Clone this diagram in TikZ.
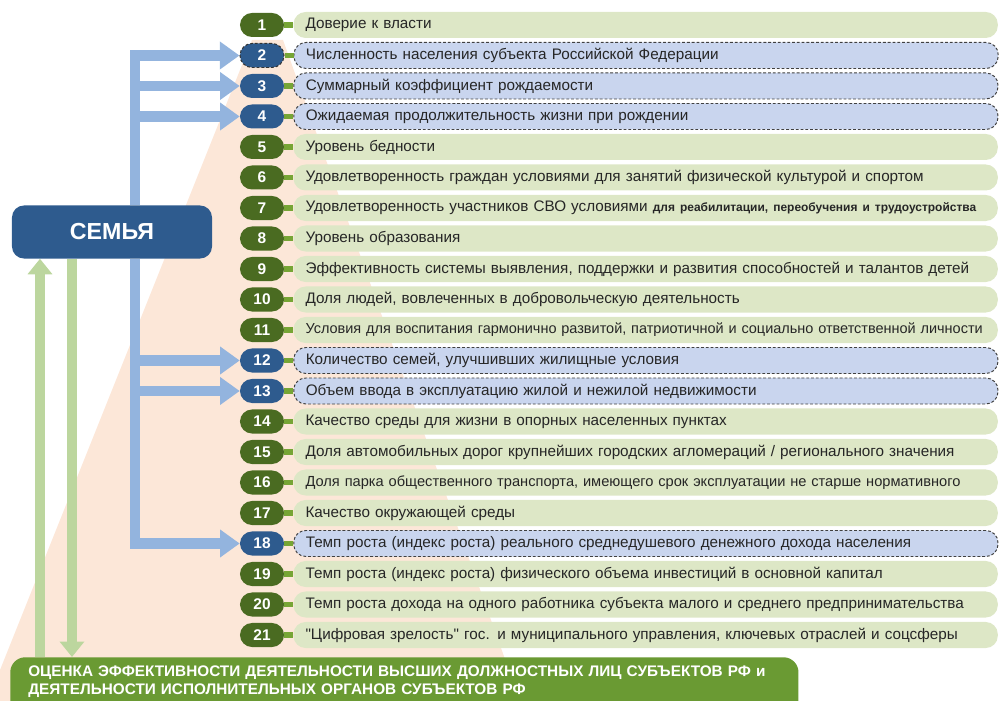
\documentclass[tikz,border=0pt]{standalone}
\usepackage{fontspec}
\setmainfont{Liberation Sans}[Ligatures=TeXOff]
\setsansfont{Liberation Sans}[Ligatures=TeXOff]
\usetikzlibrary{arrows.meta,backgrounds,positioning}
\definecolor{numgreen}{HTML}{4A6B21}
\definecolor{numblue}{HTML}{2E5B8E}
\definecolor{rowgreen}{HTML}{DDE7C6}
\definecolor{rowblue}{HTML}{C9D5EE}
\definecolor{bargreen}{HTML}{76A535}
\definecolor{arrblue}{HTML}{93B4DE}
\definecolor{arrgreen}{HTML}{BCD69E}
\definecolor{boxgreen}{HTML}{6A9A33}
\definecolor{beam}{HTML}{FCE7D8}
\tikzset{
  row/.style = {rectangle, rounded corners=0.3cm, text width=17cm, inner xsep=0.3cm,
    inner ysep=0pt, minimum height=0.65cm, align=left, text=black!85,
    font=\fontsize{10.85}{12}\selectfont},
  row_g/.style = {row, fill=rowgreen},% ligne verte
  row_b/.style = {row, fill=rowblue, draw=black!75, line width=0.7pt,
    dash pattern=on 2pt off 1.4pt},% ligne bleue, pointillee
  num/.style = {rectangle, rounded corners=0.3cm, minimum width=1.1cm,
    minimum height=0.6cm, inner sep=0pt, text=white, font=\fontsize{11}{12}\bfseries},
  num_g/.style = {num, fill=numgreen},
  num_b/.style = {num, fill=numblue},
  link/.style = {draw=bargreen, line width=4pt},
  b_arr/.style = {draw=arrblue, line width=7.5pt, -{Triangle[length=14pt,width=19pt]}},
  g_arr/.style = {draw=arrgreen, line width=7pt, -{Triangle[length=11pt,width=17pt]}}
}

\begin{document}
\begin{tikzpicture}[x=0.025cm, y=-0.025cm]
        \useasboundingbox (0,0) rectangle (1000,701);
        \clip (0,0) rectangle (1000,701);
        \node [rectangle, rounded corners=0.3cm, fill=numblue, text=white, minimum width=5cm,
          minimum height=1.325cm, font=\fontsize{16.5}{18}\bfseries] (semya) at (112,232) {СЕМЬЯ};
        \node [rectangle, rounded corners=0.375cm, fill=boxgreen, text=white, anchor=north west,
          text width=18.8cm, inner xsep=0.45cm, inner ysep=0.22cm, align=left,
          font=\fontsize{10.9}{12.8}\bfseries] (ocenka) at (10,657)
          {ОЦЕНКА ЭФФЕКТИВНОСТИ ДЕЯТЕЛЬНОСТИ ВЫСШИХ ДОЛЖНОСТНЫХ ЛИЦ СУБЪЕКТОВ РФ и\\
           ДЕЯТЕЛЬНОСТИ ИСПОЛНИТЕЛЬНЫХ ОРГАНОВ СУБЪЕКТОВ РФ\par\vspace{0.4cm}};
        % les 21 indicateurs
        \node [num_g] (n1) at (262,25) {1};
        \node [row_g, right=0.225cm of n1] (t1) {Доверие к власти};
        \node [num_b, draw=black!80, line width=0.7pt, dash pattern=on 2pt off 1.4pt] (n2) at (262,55.5) {2};
        \node [row_b, right=0.225cm of n2] (t2) {Численность населения субъекта Российской Федерации};
        \node [num_b] (n3) at (262,86) {3};
        \node [row_b, right=0.225cm of n3] (t3) {Суммарный коэффициент рождаемости};
        \node [num_b] (n4) at (262,116.5) {4};
        \node [row_b, right=0.225cm of n4] (t4) {Ожидаемая продолжительность жизни при рождении};
        \node [num_g] (n5) at (262,147) {5};
        \node [row_g, right=0.225cm of n5] (t5) {Уровень бедности};
        \node [num_g] (n6) at (262,177.5) {6};
        \node [row_g, right=0.225cm of n6] (t6) {Удовлетворенность граждан условиями для занятий физической культурой и спортом};
        \node [num_g] (n7) at (262,208) {7};
        \node [row_g, right=0.225cm of n7] (t7) {Удовлетворенность участников СВО условиями
          {\fontsize{8.5}{9}\bfseries для реабилитации, переобучения и трудоустройства}};
        \node [num_g] (n8) at (262,238.5) {8};
        \node [row_g, right=0.225cm of n8] (t8) {Уровень образования};
        \node [num_g] (n9) at (262,269) {9};
        \node [row_g, right=0.225cm of n9] (t9) {Эффективность системы выявления, поддержки и развития способностей и талантов детей};
        \node [num_g] (n10) at (262,299.5) {10};
        \node [row_g, right=0.225cm of n10] (t10) {Доля людей, вовлеченных в добровольческую деятельность};
        \node [num_g] (n11) at (262,330) {11};
        \node [row_g, right=0.225cm of n11, font=\fontsize{10.3}{12}\selectfont] (t11) {Условия для воспитания гармонично развитой, патриотичной и социально ответственной личности};
        \node [num_b] (n12) at (262,360.5) {12};
        \node [row_b, right=0.225cm of n12] (t12) {Количество семей, улучшивших жилищные условия};
        \node [num_b] (n13) at (262,391) {13};
        \node [row_b, right=0.225cm of n13] (t13) {Объем ввода в эксплуатацию жилой и нежилой недвижимости};
        \node [num_g] (n14) at (262,421.5) {14};
        \node [row_g, right=0.225cm of n14] (t14) {Качество среды для жизни в опорных населенных пунктах};
        \node [num_g] (n15) at (262,452) {15};
        \node [row_g, right=0.225cm of n15] (t15) {Доля автомобильных дорог крупнейших городских агломераций / регионального значения};
        \node [num_g] (n16) at (262,482.5) {16};
        \node [row_g, right=0.225cm of n16, font=\fontsize{10.4}{12}\selectfont] (t16) {Доля парка общественного транспорта, имеющего срок эксплуатации не старше нормативного};
        \node [num_g] (n17) at (262,513) {17};
        \node [row_g, right=0.225cm of n17] (t17) {Качество окружающей среды};
        \node [num_b] (n18) at (262,543.5) {18};
        \node [row_b, right=0.225cm of n18] (t18) {Темп роста (индекс роста) реального среднедушевого денежного дохода населения};
        \node [num_g] (n19) at (262,574) {19};
        \node [row_g, right=0.225cm of n19] (t19) {Темп роста (индекс роста) физического объема инвестиций в основной капитал};
        \node [num_g] (n20) at (262,604.5) {20};
        \node [row_g, right=0.225cm of n20] (t20) {Темп роста дохода на одного работника субъекта малого и среднего предпринимательства};
        \node [num_g] (n21) at (262,635) {21};
        \node [row_g, right=0.225cm of n21] (t21) {"Цифровая зрелость" гос. и муниципального управления, ключевых отраслей и соцсферы};
        \draw [link] (n1) -- (t1) (n2) -- (t2) (n3) -- (t3) (n4) -- (t4) (n5) -- (t5) (n6) -- (t6)
          (n7) -- (t7) (n8) -- (t8) (n9) -- (t9) (n10) -- (t10) (n11) -- (t11) (n12) -- (t12)
          (n13) -- (t13) (n14) -- (t14) (n15) -- (t15) (n16) -- (t16) (n17) -- (t17)
          (n18) -- (t18) (n19) -- (t19) (n20) -- (t20) (n21) -- (t21);
        \begin{pgfonlayer}{background}
        \fill [beam] (252,40) -- (283,40) -- (520,701) -- (0,701) -- (0,670) -- cycle;
        \draw [b_arr] ([xshift=0.575cm]semya.north) |- (n2.west);
        \draw [b_arr] ([xshift=0.575cm]semya.north) |- (n3.west);
        \draw [b_arr] ([xshift=0.575cm]semya.north) |- (n4.west);
        \draw [b_arr] ([xshift=0.575cm]semya.south) |- (n12.west);
        \draw [b_arr] ([xshift=0.575cm]semya.south) |- (n13.west);
        \draw [b_arr] ([xshift=0.575cm]semya.south) |- (n18.west);
        \draw [g_arr] ([xshift=-1.8cm]semya.south |- ocenka.north) -- ([xshift=-1.8cm]semya.south);
        \draw [g_arr] ([xshift=-1cm]semya.south) -- ([xshift=-1cm]semya.south |- ocenka.north);
        \end{pgfonlayer}
\end{tikzpicture}
\end{document}
